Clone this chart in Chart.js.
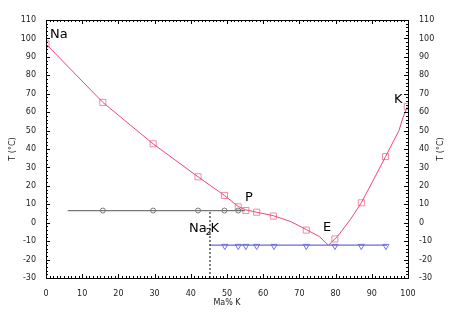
<!DOCTYPE html>
<html>
<head>
<meta charset="utf-8">
<script src="https://cdn.jsdelivr.net/npm/chart.js@4"></script>
<style>
  html, body { margin: 0; padding: 0; background: #fff; }
  canvas { display: block; }
</style>
</head>
<body>
<canvas id="c" width="450" height="321"></canvas>
<script>
// 측정점 (사각형) - 액상선
const squareX = [0, 15.7, 29.6, 42, 49.3, 53.1, 55.2, 58.2, 62.8, 71.9, 79.8, 87.1, 93.8, 99.8];
const squareT = [97, 65.3, 42.8, 24.9, 14.8, 8.6, 6.6, 5.7, 3.6, -4, -8.8, 10.8, 35.9, 63];

// 액상선 곡선
const curveX = [0, 15.7, 29.6, 42, 49.3, 53.1, 55.2, 58.2, 62.8, 67.4, 72, 75.5, 78, 80.5, 84, 87.1, 90, 93.8, 97.5, 98.6, 99.8];
const curveT = [97, 65.3, 42.8, 24.9, 14.8, 8.8, 7, 5.7, 3.8, 0.8, -3.8, -7.5, -12.2, -7.5, 1.5, 10.8, 21.5, 35.9, 50, 57, 63];

// 포정선 (회색)
const periLineX = [6, 55];
const periLineT = [6.6, 6.6];
const circleX = [15.7, 29.6, 42, 49.3, 53.1];
const circleT = [6.6, 6.6, 6.6, 6.6, 6.6];

// 공정선 (파란색)
const eutLineX = [45.3, 94.2];
const eutLineT = [-12.2, -12.2];
const triX = [49.4, 53.1, 55.2, 58.2, 63, 71.9, 79.8, 87.1, 93.9];
const triT = [-12.7, -12.7, -12.7, -12.7, -12.7, -12.7, -12.7, -12.7, -12.7];

// Na2K 조성 (점선)
const na2kX = [45.3, 45.3];
const na2kT = [-30, 6.6];

const yTicks = [-30, -20, -10, 0, 10, 20, 30, 40, 50, 60, 70, 80, 90, 100, 110];
const xTicks = [0, 10, 20, 30, 40, 50, 60, 70, 80, 90, 100];

// 라벨 (데이터 좌표, 기준선)
const labels = [
  { text: 'Na', x: 1.1, y: 100.2 },
  { text: 'K', x: 96.1, y: 65 },
  { text: 'P', x: 55, y: 11.8 },
  { text: 'E', x: 76.5, y: -4.6 },
];

const pts = (xs, ys) => xs.map((x, i) => ({ x: x, y: ys[i] }));

const FONT = 'DejaVu Sans';

const framePlugin = {
  id: 'frame',
  afterDraw(chart) {
    const ctx = chart.ctx;
    const a = chart.chartArea;
    const xs = chart.scales.x, ys = chart.scales.y;
    ctx.save();
    ctx.strokeStyle = '#000';
    ctx.lineWidth = 1;
    // 눈금 (안쪽)
    ctx.beginPath();
    for (let v = 0; v <= 100; v += 1) {
      const px = Math.round(xs.getPixelForValue(v)) + 0.5;
      const len = v % 10 === 0 ? 4 : 2;
      ctx.moveTo(px, a.bottom); ctx.lineTo(px, a.bottom - len);
      ctx.moveTo(px, a.top); ctx.lineTo(px, a.top + len);
    }
    for (let v = -30; v <= 110; v += 2) {
      const py = Math.round(ys.getPixelForValue(v)) + 0.5;
      const len = v % 10 === 0 ? 4 : 2;
      ctx.moveTo(a.left, py); ctx.lineTo(a.left + len, py);
      ctx.moveTo(a.right, py); ctx.lineTo(a.right - len, py);
    }
    ctx.stroke();
    ctx.strokeRect(Math.round(a.left) + 0.5, Math.round(a.top) + 0.5,
      Math.round(a.right - a.left), Math.round(a.bottom - a.top));

    // 텍스트 라벨
    ctx.fillStyle = '#000';
    ctx.textBaseline = 'alphabetic';
    ctx.textAlign = 'left';
    ctx.font = '13px "' + FONT + '"';
    labels.forEach(l => {
      ctx.fillText(l.text, xs.getPixelForValue(l.x), ys.getPixelForValue(l.y));
    });
    // Na2K (아래 첨자)
    let px = xs.getPixelForValue(39.5), py = ys.getPixelForValue(-5);
    ctx.fillText('Na', px, py);
    px += ctx.measureText('Na').width;
    ctx.font = '9px "' + FONT + '"';
    ctx.fillText('2', px - 1, py + 3);
    px += ctx.measureText('2').width - 2;
    ctx.font = '13px "' + FONT + '"';
    ctx.fillText('K', px, py);

    // 축 제목
    ctx.font = '8px "' + FONT + '"';
    ctx.fillStyle = '#222';
    ctx.textAlign = 'center';
    ctx.textBaseline = 'middle';
    ctx.fillText('Ma% K', (a.left + a.right) / 2, 303);
    const midY = (a.top + a.bottom) / 2;
    [13, 441].forEach(cx => {
      ctx.save();
      ctx.translate(cx, midY);
      ctx.rotate(-Math.PI / 2);
      ctx.fillText('T (°C)', 0, 0);
      ctx.restore();
    });
    ctx.restore();
  }
};

const tickFont = { family: FONT, size: 8 };

new Chart(document.getElementById('c'), {
  type: 'scatter',
  data: {
    datasets: [
      {
        type: 'line', data: pts(na2kX, na2kT),
        borderColor: '#000', borderWidth: 1, borderDash: [2, 2],
        pointRadius: 0, fill: false
      },
      {
        type: 'line', data: pts(periLineX, periLineT),
        borderColor: '#777', borderWidth: 1.2, pointRadius: 0, fill: false
      },
      {
        data: pts(circleX, circleT), pointStyle: 'circle', pointRadius: 2.5,
        borderColor: 'rgba(90,90,90,0.8)', borderWidth: 1, backgroundColor: 'rgba(0,0,0,0)'
      },
      {
        type: 'line', data: pts(eutLineX, eutLineT),
        borderColor: '#6a6ad0', borderWidth: 1.2, pointRadius: 0, fill: false
      },
      {
        data: pts(triX, triT), pointStyle: 'triangle', rotation: 180, pointRadius: 3.5,
        borderColor: 'rgba(90,90,230,0.85)', borderWidth: 1, backgroundColor: 'rgba(0,0,0,0)'
      },
      {
        type: 'line', data: pts(curveX, curveT),
        borderColor: '#f2447a', borderWidth: 1, pointRadius: 0, fill: false
      },
      {
        data: pts(squareX, squareT), pointStyle: 'rect', pointRadius: 4.3,
        borderColor: 'rgba(240,100,130,0.75)', borderWidth: 1, backgroundColor: 'rgba(0,0,0,0)'
      }
    ]
  },
  options: {
    responsive: false,
    devicePixelRatio: 1,
    animation: false,
    layout: { padding: { top: 20, left: 0, right: 0, bottom: 0 } },
    plugins: { legend: { display: false }, tooltip: { enabled: false } },
    scales: {
      x: {
        type: 'linear', min: 0, max: 100,
        afterFit(s) { s.height = 43; },
        afterBuildTicks(s) { s.ticks = xTicks.map(v => ({ value: v })); },
        grid: { display: false }, border: { display: false },
        ticks: { font: tickFont, color: '#222', padding: 3, maxRotation: 0 }
      },
      y: {
        type: 'linear', position: 'left', min: -30, max: 110,
        afterFit(s) { s.width = 46; },
        afterBuildTicks(s) { s.ticks = yTicks.map(v => ({ value: v })); },
        grid: { display: false }, border: { display: false },
        ticks: { font: tickFont, color: '#222', padding: 2 }
      },
      y2: {
        type: 'linear', position: 'right', min: -30, max: 110,
        afterFit(s) { s.width = 42; },
        afterBuildTicks(s) { s.ticks = yTicks.map(v => ({ value: v })); },
        grid: { display: false }, border: { display: false },
        ticks: { font: tickFont, color: '#222', padding: 3 }
      }
    }
  },
  plugins: [framePlugin]
});
</script>
</body>
</html>
